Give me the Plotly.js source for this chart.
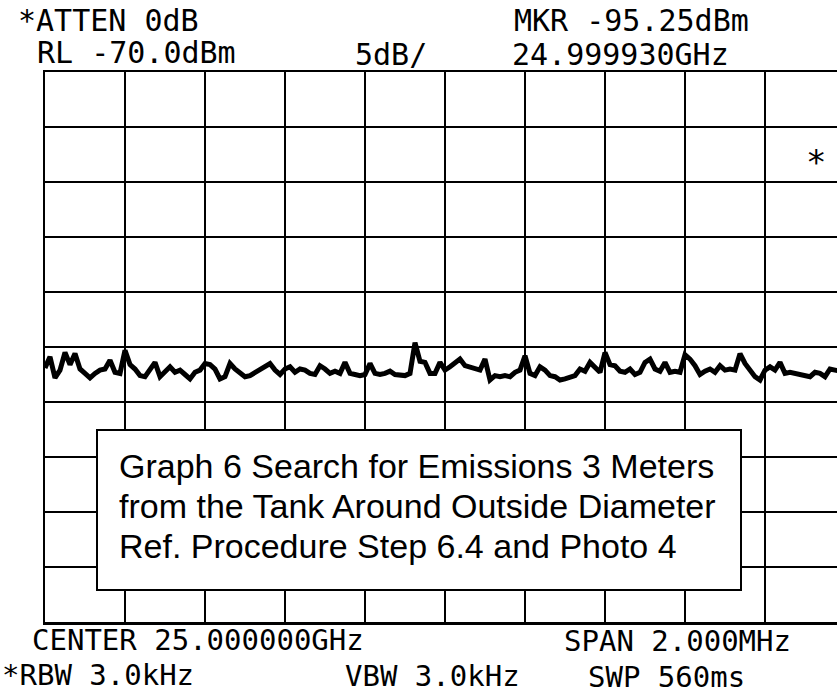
<!DOCTYPE html>
<html>
<head>
<meta charset="utf-8">
<script src="https://cdn.plot.ly/plotly-3.0.1.min.js"></script>
<style>
html,body{margin:0;padding:0;background:#fff;overflow:hidden;}
#chart{width:837px;height:698px;}
</style>
</head>
<body>
<div id="chart"></div>
<script>
// ---- Data ----
const centerGHz = 25.000000;
const spanMHz = 2.0;
const refLevel = -70.0;   // dBm
const dbPerDiv = 5;
// sweep samples, 12.5 kHz apart, starting at center - span/2 (dBm)
const traceDbm = [
  -96.9,-95.9,-97.8,-97.1,-95.5,-96.6,-95.6,-97.0,-97.4,-97.8,
  -97.4,-97.1,-97.0,-96.2,-97.3,-97.4,-95.3,-96.6,-97.0,-97.6,
  -97.7,-97.1,-96.4,-97.7,-97.3,-96.8,-97.3,-97.1,-97.5,-97.9,
  -97.3,-97.1,-96.5,-96.6,-97.0,-97.9,-97.7,-96.5,-97.0,-97.3,
  -97.7,-97.6,-97.3,-97.0,-96.8,-96.5,-97.1,-97.5,-97.0,-96.8,
  -97.3,-97.0,-97.1,-97.4,-97.5,-96.7,-97.0,-97.4,-97.2,-97.4,
  -96.4,-97.4,-97.5,-97.6,-97.5,-96.5,-97.4,-97.5,-97.4,-97.2,
  -97.5,-97.6,-97.6,-97.4,-94.6,-96.3,-96.4,-97.4,-97.4,-96.4,
  -97.1,-96.8,-96.4,-96.1,-96.7,-96.8,-97.0,-97.1,-96.1,-98.0,
  -97.6,-97.7,-97.6,-97.7,-97.3,-97.1,-95.8,-97.4,-97.6,-96.8,
  -97.1,-97.6,-97.7,-98.0,-97.9,-97.7,-97.6,-97.0,-97.2,-96.4,
  -96.9,-97.3,-95.5,-96.6,-96.7,-97.2,-97.3,-97.0,-97.5,-97.3,
  -96.4,-96.1,-97.0,-97.2,-96.4,-97.3,-97.2,-97.3,-95.7,-96.1,
  -96.7,-97.5,-97.2,-97.0,-97.3,-96.7,-97.1,-97.0,-97.1,-95.6,
  -96.5,-97.1,-97.7,-98.0,-97.1,-96.8,-97.1,-96.4,-97.4,-97.3,
  -97.4,-97.4,-97.6,-97.7,-97.3,-97.4,-97.7,-97.0,-97.1,-97.2,
  -97.0
];
const headerTexts = ["*ATTEN 0dB", "RL -70.0dBm", "5dB/", "MKR -95.25dBm", "24.999930GHz"];
const footerTexts = ["CENTER 25.000000GHz", "SPAN 2.000MHz", "*RBW 3.0kHz", "VBW 3.0kHz", "SWP 560ms"];
const noteLines = [
  "Graph 6 Search for Emissions 3 Meters",
  "from the Tank Around Outside Diameter",
  "Ref. Procedure Step 6.4 and Photo 4"
];

// ---- Build ----
const startGHz = centerGHz - spanMHz / 2000;
const stepGHz = (spanMHz / 1000) / (traceDbm.length - 1);
const freqs = traceDbm.map((_, i) => startGHz + i * stepGHz);

const W = 837, H = 698;
const M = {l: 45, r: 0, t: 72, b: 76};
const pw = W - M.l - M.r, ph = H - M.t - M.b;
const fullW = 800; // the 10-division graticule runs past the page edge
const px = x => (x - M.l) / pw;
const py = y => 1 - (y - M.t) / ph;

function lab(text, x, y, size) {
  return {text, xref: "paper", yref: "paper", x: px(x), y: py(y),
    xanchor: "left", yanchor: "middle", showarrow: false,
    font: {family: "DejaVu Sans Mono", size: size, color: "#000"}};
}

const annotations = [
  lab(headerTexts[0], 16, 20, 30),
  lab(headerTexts[1], 35, 53, 30),
  lab(headerTexts[2], 353, 54, 30),
  lab(headerTexts[3], 512, 20, 30),
  lab(headerTexts[4], 510, 54, 30),
  lab(footerTexts[0], 30, 640, 29),
  lab(footerTexts[1], 562, 641, 29),
  lab(footerTexts[2], 0, 675, 29),
  lab(footerTexts[3], 343, 676, 29),
  lab(footerTexts[4], 586, 677, 29),
  lab("*", 804, 162, 34)
];
noteLines.forEach((t, k) => {
  annotations.push({text: t, xref: "paper", yref: "paper", x: px(117), y: py(466 + k * 40),
    xanchor: "left", yanchor: "middle", showarrow: false,
    font: {family: "Liberation Sans, Arial", size: 34, color: "#000"}});
});

const shapes = [{
  type: "rect", xref: "paper", yref: "paper", layer: "above",
  x0: px(97), x1: px(741), y0: py(430), y1: py(590),
  fillcolor: "#fff", line: {color: "#000", width: 2}
}];

const trace = {
  x: freqs, y: traceDbm, type: "scatter", mode: "lines",
  line: {color: "#000", width: 5}, hoverinfo: "skip"
};

const layout = {
  width: W, height: H, margin: M,
  paper_bgcolor: "#fff", plot_bgcolor: "#fff",
  showlegend: false,
  xaxis: {
    range: [startGHz, startGHz + (spanMHz / 1000) * pw / fullW],
    tick0: startGHz, dtick: spanMHz / 10000, tickmode: "linear",
    showgrid: true, gridcolor: "#000", gridwidth: 2,
    showticklabels: false, ticks: "", zeroline: false,
    showline: true, linecolor: "#000", linewidth: 2.5, mirror: true
  },
  yaxis: {
    range: [refLevel - 10 * dbPerDiv, refLevel],
    tick0: refLevel, dtick: dbPerDiv, tickmode: "linear",
    showgrid: true, gridcolor: "#000", gridwidth: 2.5,
    showticklabels: false, ticks: "", zeroline: false,
    showline: true, linecolor: "#000", linewidth: 2.5
  },
  annotations, shapes
};

Plotly.newPlot("chart", [trace], layout, {staticPlot: true, displayModeBar: false});
</script>
</body>
</html>
